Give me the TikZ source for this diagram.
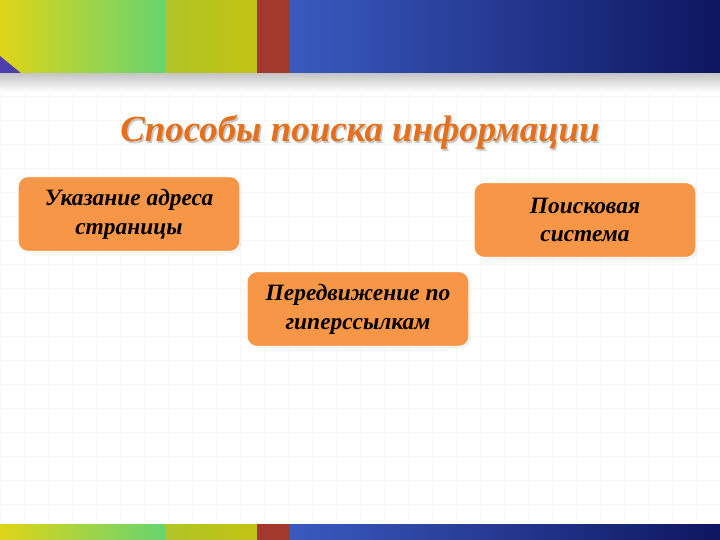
\documentclass[tikz,border=0pt]{standalone}
\usepackage{fontspec}
\setmainfont{Liberation Serif}
\usetikzlibrary{shadows}
\definecolor{boxorange}{HTML}{F79646}
\definecolor{titleorange}{HTML}{E2701C}
\definecolor{bandyellow}{HTML}{E0D418}
\definecolor{bandgreen}{HTML}{66D470}
\definecolor{bandolive}{HTML}{C2C214}
\definecolor{bandred}{HTML}{A23A2C}
\definecolor{bandblue}{HTML}{3A5AC0}
\definecolor{bandnavy}{HTML}{0E1660}

\begin{document}
\begin{tikzpicture}[x=1bp, y=-1bp,
    waybox/.style={draw=white, line width=1.2bp, fill=boxorange, rounded corners=10bp,
        minimum width=222bp, minimum height=75bp, align=center, inner sep=2bp,
        drop shadow={opacity=.15, shadow xshift=1.5bp, shadow yshift=-1.5bp},
        font=\fontsize{23.5}{29}\selectfont\bfseries\itshape}]
    \useasboundingbox (0, 0) rectangle (720, 540);
    \fill[white] (0, 0) rectangle (720, 540);
    % faint grid
    \draw[black!3, line width=.5bp, step=24bp] (0, 90) grid (720, 522);
    % top band
    \shade[left color=bandyellow, right color=bandgreen] (0, 0) rectangle (165, 74);
    \shade[left color=bandolive!80!bandgreen, right color=bandolive] (165, 0) rectangle (257, 74);
    \fill[bandred] (257, 0) rectangle (290, 74);
    \shade[left color=bandblue, right color=bandnavy] (290, 0) rectangle (720, 74);
    \fill[bandblue!70!violet] (0, 56) -- (22, 74) -- (0, 74) -- cycle;
    \shade[top color=black!22, bottom color=white] (0, 74) rectangle (720, 92);
    % bottom strip
    \shade[left color=bandyellow, right color=bandgreen] (0, 524) rectangle (165, 540);
    \shade[left color=bandolive!80!bandgreen, right color=bandolive] (165, 524) rectangle (257, 540);
    \fill[bandred] (257, 524) rectangle (290, 540);
    \shade[left color=bandblue, right color=bandnavy] (290, 524) rectangle (720, 540);
    % title
    \node[text=black!22, anchor=base] (titleshadow) at (361.5, 143.5)
        {\fontsize{37}{42}\selectfont\bfseries\itshape Способы поиска информации};
    \node[text=titleorange, anchor=base] (title) at (360, 142)
        {\fontsize{37}{42}\selectfont\bfseries\itshape Способы поиска информации};
    % ways
    \node[waybox] (address) at (129, 214) {Указание адреса\\страницы};
    \node[waybox] (search) at (585, 220) {Поисковая\\система};
    \node[waybox] (links) at (358, 309) {Передвижение по\\гиперссылкам};
\end{tikzpicture}
\end{document}
